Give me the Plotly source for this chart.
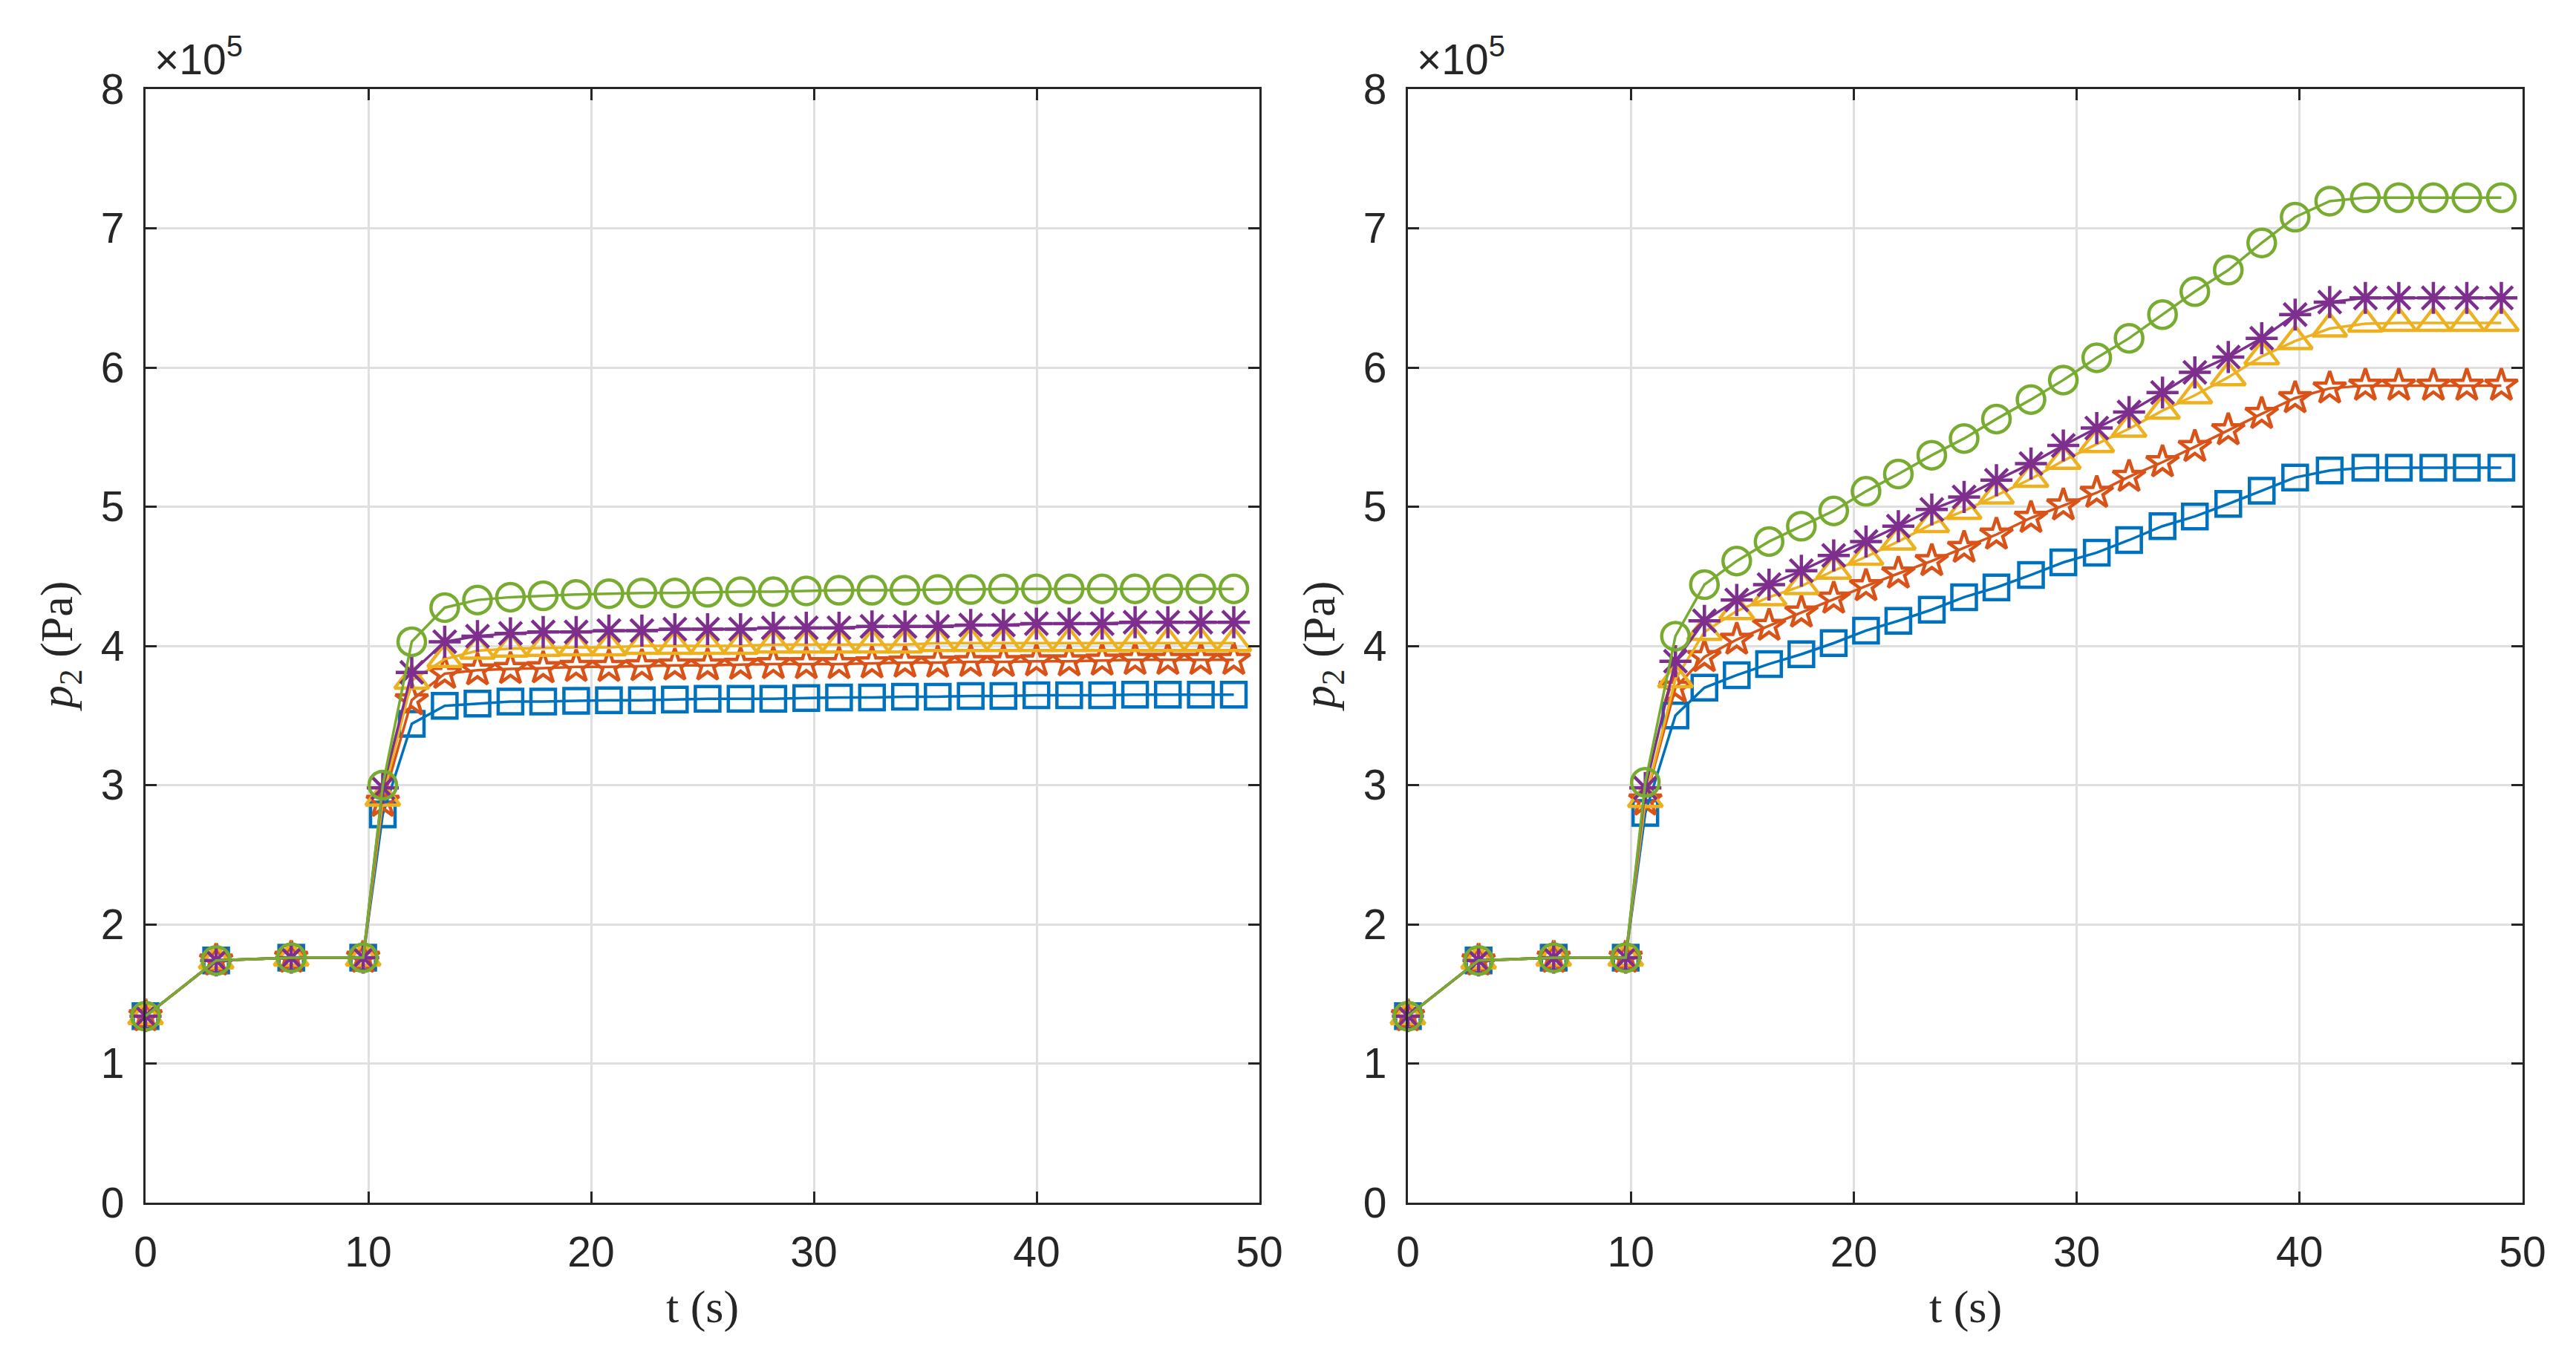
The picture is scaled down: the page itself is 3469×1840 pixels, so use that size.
import plotly.graph_objects as go

# ---- data (pressure in units of 1e5 Pa) ----
t_left = [0, 3.17, 6.54, 9.77, 10.65, 11.95, 13.43, 14.9, 16.38, 17.85, 19.33, 20.8, 22.28,
          23.76, 25.23, 26.71, 28.18, 29.66, 31.13, 32.61, 34.09, 35.56, 37.04, 38.51, 39.99,
          41.46, 42.94, 44.42, 45.89, 47.37, 48.85]
t_right = [0, 3.17, 6.54, 9.77, 10.65, 12.0, 13.3, 14.75, 16.2, 17.65, 19.1, 20.55, 22.0,
           23.5, 24.95, 26.4, 27.95, 29.4, 30.9, 32.35, 33.85, 35.3, 36.8, 38.3, 39.8,
           41.35, 42.95, 44.45, 46.0, 47.5, 49.05]

left_square = [1.34, 1.74, 1.76, 1.76, 2.79, 3.44, 3.57, 3.585, 3.60, 3.60, 3.605, 3.61, 3.61,
               3.615, 3.62, 3.62, 3.62, 3.625, 3.63, 3.63, 3.635, 3.635, 3.64, 3.64, 3.645,
               3.645, 3.645, 3.65, 3.65, 3.65, 3.65]
left_star = [1.34, 1.74, 1.76, 1.76, 2.88, 3.61, 3.80, 3.825, 3.835, 3.84, 3.85, 3.85, 3.855,
             3.86, 3.86, 3.865, 3.87, 3.87, 3.87, 3.875, 3.88, 3.88, 3.885, 3.885, 3.89,
             3.89, 3.895, 3.90, 3.90, 3.90, 3.90]
left_triangle = [1.34, 1.74, 1.76, 1.76, 2.91, 3.75, 3.905, 3.965, 3.98, 3.985, 3.99, 3.99, 4.0,
                 4.0, 4.0, 4.0, 4.01, 4.01, 4.01, 4.01, 4.01, 4.02, 4.02, 4.02, 4.02,
                 4.02, 4.02, 4.02, 4.02, 4.02, 4.02]
left_asterisk = [1.34, 1.74, 1.76, 1.76, 2.98, 3.81, 4.03, 4.07, 4.09, 4.10, 4.10, 4.11, 4.11,
                 4.12, 4.12, 4.12, 4.13, 4.13, 4.13, 4.14, 4.14, 4.14, 4.15, 4.15, 4.16,
                 4.16, 4.16, 4.17, 4.17, 4.17, 4.17]
left_circle = [1.34, 1.74, 1.76, 1.76, 3.00, 4.03, 4.275, 4.33, 4.35, 4.36, 4.37, 4.375, 4.38,
               4.38, 4.385, 4.39, 4.39, 4.395, 4.40, 4.40, 4.40, 4.405, 4.405, 4.41, 4.41,
               4.41, 4.41, 4.41, 4.41, 4.41, 4.41]

right_square = [1.34, 1.74, 1.76, 1.76, 2.80, 3.50, 3.70, 3.79, 3.87, 3.94, 4.02, 4.11, 4.18,
                4.26, 4.35, 4.42, 4.51, 4.60, 4.67, 4.76, 4.86, 4.93, 5.02, 5.115, 5.21,
                5.26, 5.28, 5.28, 5.28, 5.28, 5.28]
right_star = [1.34, 1.74, 1.76, 1.76, 2.89, 3.70, 3.92, 4.045, 4.145, 4.24, 4.34, 4.43, 4.52,
              4.61, 4.705, 4.80, 4.92, 5.01, 5.10, 5.215, 5.32, 5.43, 5.55, 5.667, 5.78,
              5.85, 5.87, 5.87, 5.87, 5.87, 5.87]
right_triangle = [1.34, 1.74, 1.76, 1.76, 2.90, 3.76, 4.10, 4.25, 4.35, 4.43, 4.54, 4.64, 4.75,
                  4.875, 4.97, 5.08, 5.20, 5.33, 5.45, 5.56, 5.69, 5.80, 5.93, 6.08, 6.19,
                  6.28, 6.315, 6.32, 6.32, 6.32, 6.32]
right_asterisk = [1.34, 1.74, 1.76, 1.76, 2.98, 3.89, 4.18, 4.33, 4.44, 4.54, 4.65, 4.75, 4.86,
                  4.98, 5.07, 5.19, 5.31, 5.44, 5.565, 5.68, 5.82, 5.965, 6.075, 6.21, 6.38,
                  6.47, 6.50, 6.50, 6.50, 6.50, 6.50]
right_circle = [1.34, 1.74, 1.76, 1.76, 3.02, 4.07, 4.44, 4.61, 4.75, 4.86, 4.97, 5.11, 5.235,
                5.37, 5.49, 5.63, 5.77, 5.91, 6.07, 6.21, 6.38, 6.545, 6.70, 6.895, 7.08,
                7.195, 7.22, 7.22, 7.22, 7.22, 7.22]

x_ticks = [0, 10, 20, 30, 40, 50]
y_ticks = [0, 1, 2, 3, 4, 5, 6, 7, 8]
y_scale = 1e5

# ---- styles ----
colors = ["#0072BD", "#D95319", "#EDB120", "#7E2F8E", "#77AC30"]
symbols = ["square-open", "star-open", "triangle-up-open", "asterisk-open", "circle-open"]
sizes = [33, 33, 40, 36, 37]

fig = go.Figure()

panels = [
    ("x", "y", t_left, [left_square, left_star, left_triangle, left_asterisk, left_circle]),
    ("x2", "y2", t_right, [right_square, right_star, right_triangle, right_asterisk, right_circle]),
]
for xa, ya, tt, series in panels:
    for vals, c, s, sz in zip(series, colors, symbols, sizes):
        fig.add_trace(go.Scatter(
            x=tt, y=[v * y_scale for v in vals], xaxis=xa, yaxis=ya,
            mode="lines+markers",
            line=dict(color=c, width=3.5),
            marker=dict(symbol=s, size=sz, color=c, line=dict(color=c, width=4.5)),
            showlegend=False, cliponaxis=False,
        ))

W, H = 3469, 1840
ax_top, ax_bot = 112, 1612
dom_y = [1 - ax_bot / H, 1 - ax_top / H]
dom_x1 = [188 / W, 1688 / W]
dom_x2 = [1888 / W, 3389 / W]

tick_font = dict(family="Liberation Sans, Arial, sans-serif", size=57, color="#262626")
axis_common = dict(
    showline=True, linecolor="#262626", linewidth=3.3, mirror="ticks",
    ticks="inside", ticklen=15, tickwidth=3, tickcolor="#262626",
    showgrid=True, gridcolor="#dfdfdf", gridwidth=3, zeroline=False,
    tickfont=tick_font, automargin=False,
)
xaxis_common = dict(axis_common, range=[0, 50], tickvals=x_ticks,
                    ticktext=[str(v) for v in x_ticks], ticklabelstandoff=14)
yaxis_common = dict(axis_common, range=[0, 8 * y_scale], tickvals=[v * y_scale for v in y_ticks],
                    ticktext=[str(v) for v in y_ticks], ticklabelstandoff=14)

fig.update_layout(
    template="none",
    width=W, height=H, margin=dict(l=0, r=0, t=0, b=0, autoexpand=False),
    paper_bgcolor="white", plot_bgcolor="white",
    xaxis=dict(xaxis_common, domain=dom_x1, anchor="y"),
    yaxis=dict(yaxis_common, domain=dom_y, anchor="x"),
    xaxis2=dict(xaxis_common, domain=dom_x2, anchor="y2"),
    yaxis2=dict(yaxis_common, domain=dom_y, anchor="x2"),
)

serif = dict(family="Liberation Serif, Times New Roman, serif", size=62, color="#262626")
annotations = []
for dx, off in ((dom_x1, 0), (dom_x2, 1700)):
    cx = (dx[0] + dx[1]) / 2
    annotations.append(dict(text="t (s)", x=cx, y=1 - 1752 / H, xref="paper", yref="paper",
                            xanchor="center", yanchor="middle", showarrow=False, font=serif))
    annotations.append(dict(text="<i>p</i><sub>2</sub> (Pa)", x=(72 + off) / W, y=(dom_y[0] + dom_y[1]) / 2,
                            xref="paper", yref="paper", xanchor="center", yanchor="middle",
                            textangle=-90, showarrow=False, font=serif))
    annotations.append(dict(text="\u00d710<sup>5</sup>", x=dx[0] + 10 / W, y=1 - 106 / H,
                            xref="paper", yref="paper", xanchor="left", yanchor="bottom",
                            showarrow=False, font=tick_font))
fig.update_layout(annotations=annotations)

fig.write_html("out.html")
